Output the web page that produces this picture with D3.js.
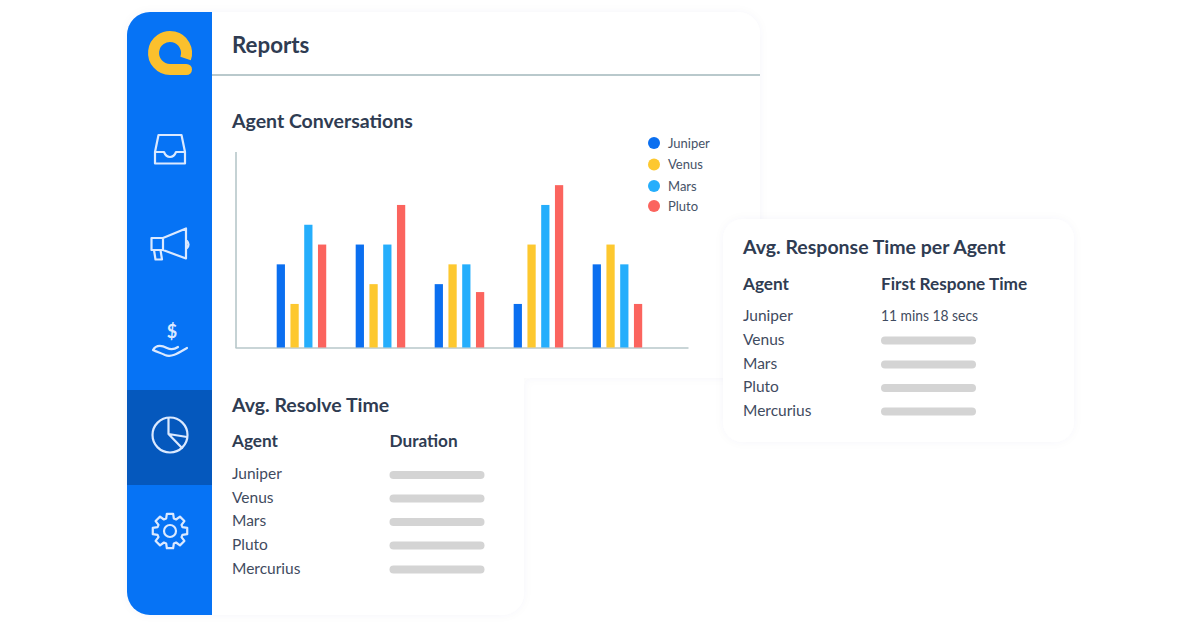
<!DOCTYPE html>
<html>
<head>
<meta charset="utf-8">
<script src="https://cdn.jsdelivr.net/npm/d3@7"></script>
<style>
  html, body { margin: 0; padding: 0; background: #fff; }
  svg { display: block; }
  text { font-family: Lato, "Noto Sans", sans-serif; fill: #2f3c52; }
  .title { font-size: 19.5px; font-weight: 700; }
  .head { font-size: 17.2px; font-weight: 700; }
  .row { font-size: 15.5px; fill: #3f4b60; }
  .legend { font-size: 13px; fill: #465267; }
  .icon { fill: none; stroke: #dbe9ff; stroke-width: 2.2; stroke-linejoin: round; stroke-linecap: round; }
</style>
</head>
<body>
<script>
// chart values
var groups = ["1", "2", "3", "4", "5"];
var series_names = ["Juniper", "Venus", "Mars", "Pluto"];
var series_colours = ["#0b6ff0", "#fdc82f", "#25aefc", "#fb645e"];
var juniper_values = [4, 5, 3, 2, 4];
var venus_values = [2, 3, 4, 5, 5];
var mars_values = [6, 5, 4, 7, 4];
var pluto_values = [5, 7, 2.6, 8, 2];
var agents = ["Juniper", "Venus", "Mars", "Pluto", "Mercurius"];
var response_times = ["11 mins 18 secs", null, null, null, null];
var resolve_times = [null, null, null, null, null];

var svg = d3.select("body").append("svg").attr("width", 1200).attr("height", 628);

var shadow = svg.append("defs").append("filter").attr("id", "soft")
  .attr("x", "-10%").attr("y", "-10%").attr("width", "120%").attr("height", "120%");
shadow.append("feDropShadow").attr("dx", 0).attr("dy", 0).attr("stdDeviation", 4)
  .attr("flood-color", "#5a6a80").attr("flood-opacity", 0.04);

// card outlines
svg.append("path")
  .attr("d", "M150,12 H738 a22,22 0 0 1 22,22 V378 H524 V593 a22,22 0 0 1 -22,22 H150 a23,23 0 0 1 -23,-23 V35 a23,23 0 0 1 23,-23 Z")
  .attr("fill", "#fff").attr("filter", "url(#soft)");

svg.append("path")
  .attr("d", "M150,12 H212 V615 H150 a23,23 0 0 1 -23,-23 V35 a23,23 0 0 1 23,-23 Z")
  .attr("fill", "#0673f5");
svg.append("rect").attr("x", 127).attr("y", 390).attr("width", 85).attr("height", 95).attr("fill", "#0558bd");

// logo
svg.append("path")
  .attr("d", "M185.6,58.5 A16.5,16.5 0 1 0 170,69.5 H186")
  .attr("fill", "none").attr("stroke", "#fbc02d").attr("stroke-width", 11);
svg.append("circle").attr("cx", 186.5).attr("cy", 69.5).attr("r", 5.5).attr("fill", "#fbc02d");

// inbox
svg.append("path").attr("class", "icon")
  .attr("d", "M158.5,135 H181.5 L185,152 V163.5 H155 V152 Z M155,152 H164 Q166,157 170,157 Q174,157 176,152 H185");

// megaphone
svg.append("path").attr("class", "icon")
  .attr("d", "M151.5,238 H163 L186,228.5 V258.5 L163,250 H151.5 Z M163,238 V250 M154,250 L155.5,259.5 H162 L160.5,250 M187,241 Q190,244.5 187,248");

// money hand
svg.append("text").attr("x", 172).attr("y", 338).attr("text-anchor", "middle")
  .style("font-size", "18px").style("font-weight", "700").style("fill", "#dbe9ff").text("$");
svg.append("path").attr("class", "icon")
  .attr("d", "M153,350 C156,345 161,345 167,348 C171,350 175,349 178,347 M153,350 C157,352 161,353 165,355 C172,358 180,352 187,348");

// reports icon
svg.append("circle").attr("class", "icon").attr("cx", 170).attr("cy", 435).attr("r", 17.5);
svg.append("path").attr("class", "icon").attr("d", "M168.5,418 V434 L187,437 M168.5,434 L182,448");

// settings gear
var gear_points = d3.range(8).flatMap(function(i) {
  var a = i * Math.PI / 4;
  return [[a - 0.3, 13], [a - 0.18, 17.5], [a + 0.18, 17.5], [a + 0.3, 13]];
});
svg.append("path").attr("class", "icon")
  .attr("transform", "translate(170,531)")
  .attr("d", d3.lineRadial().curve(d3.curveLinearClosed)(gear_points));
svg.append("circle").attr("class", "icon").attr("cx", 170).attr("cy", 531).attr("r", 6);

// header
svg.append("text").attr("x", 232).attr("y", 52.5).style("font-size", "22.3px").style("font-weight", 700).text("Reports");
svg.append("line").attr("x1", 212).attr("x2", 760).attr("y1", 75).attr("y2", 75)
  .attr("stroke", "#b9c9cc").attr("stroke-width", 2);

svg.append("text").attr("class", "title").attr("x", 232).attr("y", 128).text("Agent Conversations");

// bar chart
var x_groups = d3.scaleBand().domain(groups).range([276.7, 642.2]).paddingInner(0.373);
var x_series = d3.scaleBand().domain(series_names).range([0, x_groups.bandwidth()]).paddingInner(0.4);
var y_bars = d3.scaleLinear().domain([-0.2, 9.7]).range([347.5, 151.5]);
var x_axis_scale = d3.scaleLinear().domain([0, 1]).range([235, 688]);

svg.append("g").attr("transform", "translate(235.5,0)")
  .call(d3.axisLeft(y_bars).tickValues([]).tickSizeOuter(0))
  .select(".domain").attr("stroke", "#b7c7ca").attr("stroke-width", 1.6);
svg.append("g").attr("transform", "translate(0,347.5)")
  .call(d3.axisBottom(x_axis_scale).tickValues([]).tickSizeOuter(0))
  .select(".domain").attr("stroke", "#b7c7ca").attr("stroke-width", 1.6);

[juniper_values, venus_values, mars_values, pluto_values].forEach(function(values, s) {
  svg.append("g").selectAll("rect")
    .data(values)
    .enter()
    .append("rect")
    .attr("x", function(d, i) { return x_groups(groups[i]) + x_series(series_names[s]); })
    .attr("y", function(d) { return y_bars(d); })
    .attr("width", x_series.bandwidth())
    .attr("height", function(d) { return y_bars(-0.2) - y_bars(d); })
    .attr("fill", series_colours[s]);
});

// legend
var legend = svg.append("g").selectAll("g")
  .data(series_names)
  .enter()
  .append("g")
  .attr("transform", function(d, i) { return "translate(654," + [143, 164.5, 186, 206][i] + ")"; });
legend.append("circle").attr("r", 6).attr("fill", function(d, i) { return series_colours[i]; });
legend.append("text").attr("class", "legend").attr("x", 14).attr("y", 4.5).text(function(d) { return d; });

// response time card
svg.append("rect").attr("x", 723).attr("y", 219).attr("width", 351).attr("height", 223).attr("rx", 20)
  .attr("fill", "#fff").attr("filter", "url(#soft)");

function draw_table(title, column, times, x_left, x_right, y_title, y_head, row_ys) {
  svg.append("text").attr("class", "title").attr("x", x_left).attr("y", y_title).text(title);
  svg.append("text").attr("class", "head").attr("x", x_left).attr("y", y_head).text("Agent");
  svg.append("text").attr("class", "head").attr("x", x_right).attr("y", y_head).text(column);
  agents.forEach(function(agent, i) {
    svg.append("text").attr("class", "row").attr("x", x_left).attr("y", row_ys[i]).text(agent);
    if (times[i]) {
      svg.append("text").attr("class", "row").attr("x", x_right).attr("y", row_ys[i])
        .attr("textLength", 97).attr("lengthAdjust", "spacingAndGlyphs").text(times[i]);
    } else {
      svg.append("rect").attr("x", x_right).attr("y", row_ys[i] - 8).attr("width", 95).attr("height", 8).attr("rx", 4)
        .attr("fill", "#d4d4d4");
    }
  });
}

draw_table("Avg. Response Time per Agent", "First Respone Time", response_times, 743, 881, 254, 290, [321, 344.5, 368.5, 392, 415.5]);
draw_table("Avg. Resolve Time", "Duration", resolve_times, 232, 389.5, 412, 447, [479, 502.5, 526, 549.5, 573.5]);
</script>
</body>
</html>
